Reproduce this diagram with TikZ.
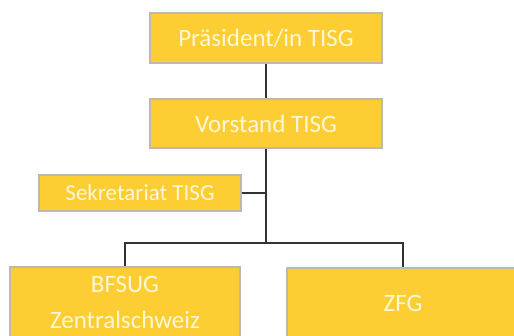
\documentclass[tikz,border=0pt]{standalone}
\usepackage{fontspec}
\setmainfont{Carlito}
\definecolor{boxfill}{RGB}{252,206,52}
\definecolor{boxtext}{RGB}{255,247,214}
\definecolor{boxline}{RGB}{190,185,170}
\definecolor{linkcol}{RGB}{50,50,50}
\tikzset{
  orgbox/.style={draw=boxline,line width=1.2pt,fill=boxfill,text=boxtext,
    font=\fontsize{25}{30}\selectfont,inner sep=0pt,align=center},
  link/.style={linkcol,line width=1.5pt}
}
\begin{document}
\begin{tikzpicture}[x=1pt,y=-1pt]
\clip (0,0) rectangle (514,335);
\fill[white] (0,0) rectangle (514,335);

\node[orgbox,minimum width=232pt,minimum height=50pt] (pres) at (266,38) {Präsident/in TISG};
\node[orgbox,minimum width=232pt,minimum height=49pt] (vor) at (266,123.5) {Vorstand TISG};
\node[orgbox,minimum width=202pt,minimum height=36pt,font=\fontsize{23}{28}\selectfont] (sek) at (140,193) {Sekretariat TISG};
\node[orgbox,minimum width=230pt,minimum height=70pt,font=\fontsize{25}{36}\selectfont] (bfs) at (125,302) {BFSUG\\Zentralschweiz};
\node[orgbox,minimum width=232pt,minimum height=70pt] (zfg) at (403,303) {ZFG};
\coordinate (split) at (266,243);

\draw[link] (pres.south) -- (vor.north);
\draw[link] (vor.south) -- (split);
\draw[link] (sek.east) -- (sek.east -| split);
\draw[link] (split) -| (bfs.north);
\draw[link] (split) -| (zfg.north);
\end{tikzpicture}
\end{document}
